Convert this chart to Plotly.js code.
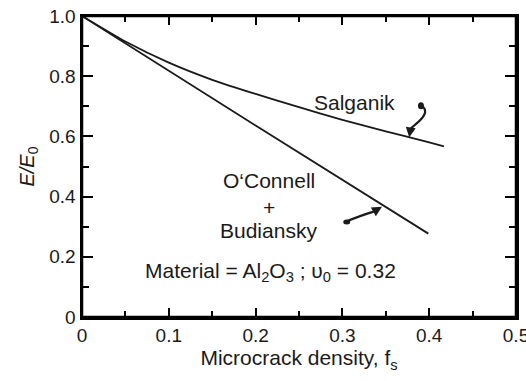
<!DOCTYPE html>
<html>
<head>
<meta charset="utf-8">
<script src="https://cdn.plot.ly/plotly-3.0.1.min.js"></script>
<style>html,body{margin:0;padding:0;background:#fff;}#chart{width:526px;height:381px;}</style>
</head>
<body>
<div id="chart"></div>
<script>
// Data
const salganikF = [0, 0.05, 0.1, 0.15, 0.2, 0.25, 0.3, 0.35, 0.4, 0.417];
const salganikE = [1.0, 0.915, 0.845, 0.788, 0.741, 0.697, 0.655, 0.617, 0.580, 0.567];
const ocbF = [0, 0.2, 0.399];
const ocbE = [1.0, 0.636, 0.277];
const xTickStep = 0.1;
const xMinorStep = 0.05;
const yTickStep = 0.2;
const yMinorStep = 0.1;
const yLabelAlias = {'1': '1.0'};

const FONT = 'Liberation Sans, Arial, sans-serif';
const INK = '#1a1a1a';

const traces = [
  {x: salganikF, y: salganikE, mode: 'lines', line: {color: INK, width: 1.8, shape: 'spline', smoothing: 0.6}, hoverinfo: 'skip', showlegend: false},
  {x: ocbF, y: ocbE, mode: 'lines', line: {color: INK, width: 1.8}, hoverinfo: 'skip', showlegend: false}
];

function ann(text, x, y, size) {
  return {text: text, x: x, y: y, xref: 'x', yref: 'y', showarrow: false,
          xanchor: 'center', yanchor: 'middle', font: {family: FONT, size: size || 21, color: INK}};
}
function head(x, y, ax, ay) {
  return {text: '', x: x, y: y, ax: ax, ay: ay, xref: 'x', yref: 'y', axref: 'x', ayref: 'y',
          showarrow: true, arrowhead: 2, arrowsize: 1, arrowwidth: 2, arrowcolor: INK};
}

const layout = {
  width: 526, height: 381,
  margin: {l: 82, r: 10, t: 16, b: 64},
  paper_bgcolor: 'rgba(0,0,0,0)', plot_bgcolor: 'rgba(0,0,0,0)',
  font: {family: FONT, color: INK, size: 19},
  showlegend: false,
  xaxis: {
    range: [0, 0.5], tickmode: 'linear', tick0: 0, dtick: xTickStep,
    ticks: 'inside', ticklen: 9, tickwidth: 2, tickcolor: '#000000',
    showline: true, linewidth: 2.5, linecolor: '#000000', mirror: 'allticks',
    showgrid: false, zeroline: false, ticklabeloverflow: 'allow',
    tickfont: {family: FONT, size: 19, color: INK},
    minor: {dtick: xMinorStep, ticks: 'inside', ticklen: 6, tickwidth: 2, tickcolor: '#000000', showgrid: false},
    title: {text: 'Microcrack density, f<sub>s</sub>', font: {family: FONT, size: 21, color: INK}, standoff: 4}
  },
  yaxis: {
    range: [0, 1], tickmode: 'linear', tick0: 0, dtick: yTickStep, labelalias: yLabelAlias,
    ticks: 'inside', ticklen: 11, tickwidth: 2, tickcolor: '#000000',
    showline: true, linewidth: 2.5, linecolor: '#000000', mirror: 'allticks',
    showgrid: false, zeroline: false,
    tickfont: {family: FONT, size: 19, color: INK},
    minor: {dtick: yMinorStep, ticks: 'inside', ticklen: 7, tickwidth: 2, tickcolor: '#000000', showgrid: false},
    title: {text: '<i>E/E</i><sub>0</sub>', font: {family: FONT, size: 20, color: INK}, standoff: 10}
  },
  annotations: [
    ann('Salganik', 0.3134, 0.712),
    ann('O\u2018Connell', 0.2154, 0.455),
    ann('+', 0.2154, 0.364),
    ann('Budiansky', 0.2154, 0.287),
    ann('Material = Al<sub>2</sub>O<sub>3</sub> ; \u03C5<sub>0</sub> = 0.32', 0.217, 0.150),
    head(0.377, 0.597, 0.3785, 0.625),
    head(0.3456, 0.366, 0.336, 0.350)
  ],
  shapes: [
    {type: 'rect', xref: 'paper', yref: 'paper', x0: 0, x1: 1, y0: 0, y1: 1, layer: 'above',
     line: {color: '#000000', width: 2.5}, fillcolor: 'rgba(0,0,0,0)'},
    {type: 'path', xref: 'x', yref: 'y', path: 'M 0.3894,0.7043 Q 0.403,0.685 0.3856,0.6435 Q 0.380,0.630 0.3785,0.625',
     line: {color: INK, width: 2.2}},
    {type: 'path', xref: 'x', yref: 'y', path: 'M 0.303,0.3156 Q 0.322,0.338 0.336,0.350',
     line: {color: INK, width: 2.2}},
    {type: 'circle', xref: 'x', yref: 'y', xsizemode: 'pixel', ysizemode: 'pixel', xanchor: 0.3905, yanchor: 0.702,
     x0: -3, x1: 3, y0: -3.5, y1: 3.5, fillcolor: INK, line: {width: 0}},
    {type: 'circle', xref: 'x', yref: 'y', xsizemode: 'pixel', ysizemode: 'pixel', xanchor: 0.305, yanchor: 0.316,
     x0: -3.5, x1: 3.5, y0: -2.5, y1: 2.5, fillcolor: INK, line: {width: 0}}
  ]
};

Plotly.newPlot('chart', traces, layout, {staticPlot: true, displayModeBar: false});
</script>
</body>
</html>
